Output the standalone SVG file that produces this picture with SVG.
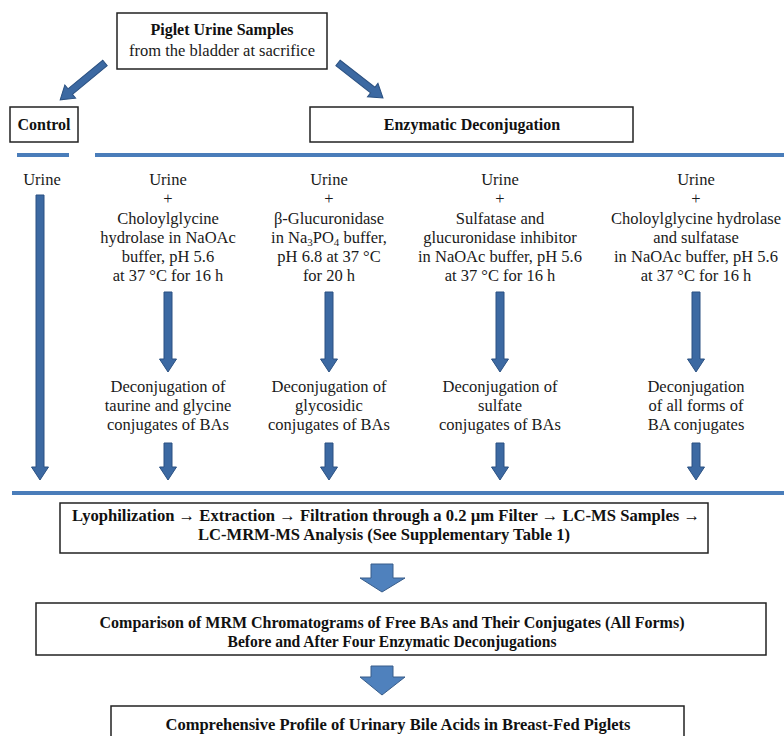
<svg xmlns="http://www.w3.org/2000/svg" width="784" height="736" viewBox="0 0 784 736">
<style>
  .box { fill: #ffffff; stroke: #222222; stroke-width: 1.5; }
  .t { font-family: "Liberation Serif", "Times New Roman", serif; font-size: 16.5px; fill: #1a1a1a; text-anchor: middle; }
  .b { font-family: "Liberation Serif", "Times New Roman", serif; font-size: 16px; font-weight: bold; fill: #111111; text-anchor: middle; }
  .bb { font-family: "Liberation Serif", "Times New Roman", serif; font-size: 17px; font-weight: bold; fill: #111111; text-anchor: middle; }
  .sub { font-size: 11px; }
  .bar { stroke: #4A7DBA; stroke-width: 4; fill: none; }
  .arr { fill: #3C69A2; stroke: #2B5182; stroke-width: 1; }
  .big { fill: #4F81BD; stroke: #385D8A; stroke-width: 1; }
</style>
<rect width="784" height="736" fill="#ffffff"/>

<g id="connectors">
  <g transform="translate(105,63) rotate(140.6)">
    <polygon class="arr" points="0,-3.5 45,-3.5 45,-8.5 58,0 45,8.5 45,3.5 0,3.5"/>
  </g>
  <g transform="translate(338,63) rotate(37.9)">
    <polygon class="arr" points="0,-3.5 44,-3.5 44,-8.5 57,0 44,8.5 44,3.5 0,3.5"/>
  </g>
  <line class="bar" x1="17" y1="155" x2="69" y2="155"/>
  <line class="bar" x1="95" y1="155" x2="784" y2="155"/>
  <line class="bar" x1="12" y1="493" x2="784" y2="493"/>
  <polygon class="arr" points="36,195 44,195 44,467 48.5,467 40,480 31.5,467 36,467"/>
  <polygon class="arr" points="164,292 172,292 172,359 176.5,359 168,372 159.5,359 164,359"/>
  <polygon class="arr" points="325,292 333,292 333,359 337.5,359 329,372 320.5,359 325,359"/>
  <polygon class="arr" points="496,292 504,292 504,359 508.5,359 500,372 491.5,359 496,359"/>
  <polygon class="arr" points="692,292 700,292 700,359 704.5,359 696,372 687.5,359 692,359"/>
  <polygon class="arr" points="164,443 172,443 172,467 176.5,467 168,480 159.5,467 164,467"/>
  <polygon class="arr" points="325,443 333,443 333,467 337.5,467 329,480 320.5,467 325,467"/>
  <polygon class="arr" points="496,443 504,443 504,467 508.5,467 500,480 491.5,467 496,467"/>
  <polygon class="arr" points="692,443 700,443 700,467 704.5,467 696,480 687.5,467 692,467"/>
  <polygon class="big" points="371,564 393,564 393,578 405,578 382,592 360,578 371,578"/>
  <polygon class="big" points="371,666 393,666 393,677 405,677 382,695 360,677 371,677"/>
</g>

<g id="top">
  <rect class="box" x="117" y="13" width="210" height="56"/>
  <text class="b" x="222" y="35">Piglet Urine Samples</text>
  <text class="t" x="222" y="56">from the bladder at sacrifice</text>
</g>

<g id="control">
  <rect class="box" x="10" y="107" width="68" height="35"/>
  <text class="b" x="44" y="130">Control</text>
</g>

<g id="enzymatic">
  <rect class="box" x="310" y="107" width="323" height="35"/>
  <text class="b" x="472" y="130">Enzymatic Deconjugation</text>
</g>

<g id="control-urine">
  <text class="t" x="42" y="185">Urine</text>
</g>

<g id="col1">
  <text class="t" x="168" y="185">Urine</text>
  <text class="t" x="168" y="204">+</text>
  <text class="t" x="168" y="224">Choloylglycine</text>
  <text class="t" x="168" y="243">hydrolase in NaOAc</text>
  <text class="t" x="168" y="262">buffer, pH 5.6</text>
  <text class="t" x="168" y="281">at 37 °C for 16 h</text>
</g>
<g id="col1-result">
  <text class="t" x="168" y="392">Deconjugation of</text>
  <text class="t" x="168" y="411">taurine and glycine</text>
  <text class="t" x="168" y="430">conjugates of BAs</text>
</g>

<g id="col2">
  <text class="t" x="329" y="185">Urine</text>
  <text class="t" x="329" y="204">+</text>
  <text class="t" x="329" y="224">β-Glucuronidase</text>
  <text class="t" x="329" y="243">in Na<tspan class="sub" dy="3">3</tspan><tspan dy="-3">PO</tspan><tspan class="sub" dy="3">4</tspan><tspan dy="-3"> buffer,</tspan></text>
  <text class="t" x="329" y="262">pH 6.8 at 37 °C</text>
  <text class="t" x="329" y="281">for 20 h</text>
</g>
<g id="col2-result">
  <text class="t" x="329" y="392">Deconjugation of</text>
  <text class="t" x="329" y="411">glycosidic</text>
  <text class="t" x="329" y="430">conjugates of BAs</text>
</g>

<g id="col3">
  <text class="t" x="500" y="185">Urine</text>
  <text class="t" x="500" y="204">+</text>
  <text class="t" x="500" y="224">Sulfatase and</text>
  <text class="t" x="500" y="243">glucuronidase inhibitor</text>
  <text class="t" x="500" y="262">in NaOAc buffer, pH 5.6</text>
  <text class="t" x="500" y="281">at 37 °C for 16 h</text>
</g>
<g id="col3-result">
  <text class="t" x="500" y="392">Deconjugation of</text>
  <text class="t" x="500" y="411">sulfate</text>
  <text class="t" x="500" y="430">conjugates of BAs</text>
</g>

<g id="col4">
  <text class="t" x="696" y="185">Urine</text>
  <text class="t" x="696" y="204">+</text>
  <text class="t" x="696" y="224">Choloylglycine hydrolase</text>
  <text class="t" x="696" y="243">and sulfatase</text>
  <text class="t" x="696" y="262">in NaOAc buffer, pH 5.6</text>
  <text class="t" x="696" y="281">at 37 °C for 16 h</text>
</g>
<g id="col4-result">
  <text class="t" x="696" y="392">Deconjugation</text>
  <text class="t" x="696" y="411">of all forms of</text>
  <text class="t" x="696" y="430">BA conjugates</text>
</g>

<g id="lyophilization">
  <rect class="box" x="60" y="503" width="648" height="50"/>
  <text class="bb" x="386" y="521" textLength="628" lengthAdjust="spacingAndGlyphs">Lyophilization → Extraction → Filtration through a 0.2 µm Filter → LC-MS Samples →</text>
  <text class="bb" x="384" y="540" textLength="372" lengthAdjust="spacingAndGlyphs">LC-MRM-MS Analysis (See Supplementary Table 1)</text>
</g>

<g id="comparison">
  <rect class="box" x="36" y="603" width="730" height="52"/>
  <text class="bb" x="392" y="628" textLength="585" lengthAdjust="spacingAndGlyphs">Comparison of MRM Chromatograms of Free BAs and Their Conjugates (All Forms)</text>
  <text class="bb" x="392" y="647" textLength="329" lengthAdjust="spacingAndGlyphs">Before and After Four Enzymatic Deconjugations</text>
</g>

<g id="profile">
  <rect class="box" x="111" y="706" width="573" height="40"/>
  <text class="bb" x="398" y="730" textLength="465" lengthAdjust="spacingAndGlyphs">Comprehensive Profile of Urinary Bile Acids in Breast-Fed Piglets</text>
</g>
</svg>
